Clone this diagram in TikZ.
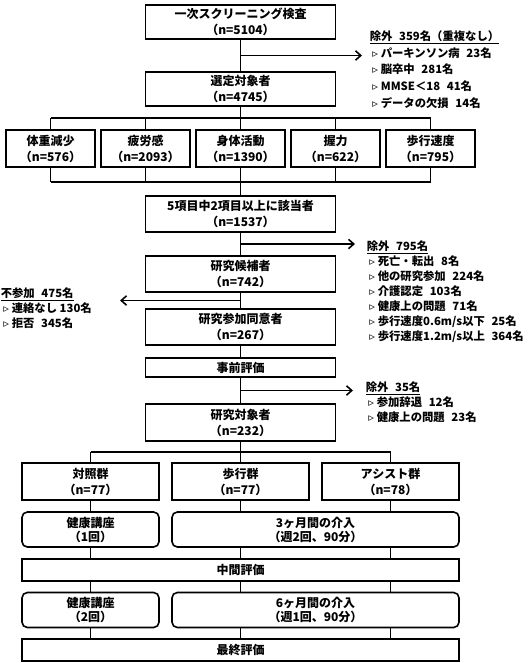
\documentclass[tikz,border=0pt]{standalone}
\usepackage{fontspec}
\setmainfont{Noto Sans CJK JP}
\newfontfamily\symfont{DejaVu Sans}
\usetikzlibrary{arrows.meta, positioning, calc}

\newcommand{\itm}{\hspace{2pt}{\symfont\fontsize{8.5}{8.5}\selectfont ▹}\hspace{2pt}}
\newcommand{\gap}{\hspace{5pt}}

\begin{document}
\begin{tikzpicture}[x=0.75pt, y=-0.75pt, line width=1.2pt,
    box/.style={draw, align=center, inner sep=0pt, font=\bfseries\fontsize{9}{12}\selectfont},
    widebox/.style={box, minimum width=142.5pt, minimum height=27pt},
    critbox/.style={box, minimum width=66.75pt, minimum height=27.75pt},
    grpbox/.style={box, minimum width=103pt, minimum height=27.75pt},
    roundbox/.style={box, rounded corners=4pt, minimum height=26.25pt, font=\bfseries\fontsize{9}{10.5}\selectfont},
    evalbox/.style={box, minimum width=327.75pt, minimum height=16.5pt},
    note/.style={anchor=north west, inner sep=0pt, align=left, font=\bfseries\fontsize{8.5}{11.25}\selectfont},
    arr/.style={-{Straight Barb[length=4pt,width=7pt]}}]
    \useasboundingbox (0,0) rectangle (529,663);

    % Nodes
    \node[widebox, minimum height=25.5pt] (screen) at (240.5,22) {一次スクリーニング検査\\（n=5104）};
    \node[widebox, minimum height=25.5pt] (select) at (240.5,89) {選定対象者\\（n=4745）};
    \node[critbox] (weight) at (50.5,148.5) {体重減少\\（n=576）};
    \node[critbox] (fatigue) at (145.5,148.5) {疲労感\\（n=2093）};
    \node[critbox] (activity) at (240.5,148.5) {身体活動\\（n=1390）};
    \node[critbox] (grip) at (335.5,148.5) {握力\\（n=622）};
    \node[critbox] (speed) at (430.5,148.5) {歩行速度\\（n=795）};
    \node[widebox] (frail) at (240.5,214) {5項目中2項目以上に該当者\\（n=1537）};
    \node[widebox] (cand) at (240.5,274) {研究候補者\\（n=742）};
    \node[widebox] (consent) at (240.5,327) {研究参加同意者\\（n=267）};
    \node[widebox, minimum height=14.25pt] (pre) at (240.5,367.5) {事前評価};
    \node[widebox, minimum height=27.75pt] (subj) at (240.5,422.5) {研究対象者\\（n=232）};
    \node[grpbox] (ctrl) at (90.5,481.5) {対照群\\（n=77）};
    \node[grpbox] (walk) at (240.5,481.5) {歩行群\\（n=77）};
    \node[grpbox] (assist) at (390.5,481.5) {アシスト群\\（n=78）};
    \node[roundbox, minimum width=102.75pt] (lect1) at (90.5,529.5) {健康講座\\（1回）};
    \node[roundbox, minimum width=215.25pt] (int1) at (315.5,529.5) {3ヶ月間の介入\\（週2回、90分）};
    \node[evalbox] (mid) at (240.5,570) {中間評価};
    \node[roundbox, minimum width=102.75pt] (lect2) at (90.5,610) {健康講座\\（2回）};
    \node[roundbox, minimum width=215.25pt] (int2) at (315.5,610) {6ヶ月間の介入\\（週1回、90分）};
    \node[evalbox] (final) at (240.5,650) {最終評価};

    % Notes
    \node[note, font=\bfseries\fontsize{8.5}{12.5}\selectfont] (ex1) at (369,30) {\underline{除外\gap 359名（重複なし）}\\
        \itm パーキンソン病\gap 23名\\ \itm 脳卒中\gap 281名\\ \itm MMSE＜18\gap 41名\\ \itm データの欠損\gap 14名};
    \node[note] (ex2) at (366,240) {\underline{除外\gap 795名}\\
        \itm 死亡・転出\gap 8名\\ \itm 他の研究参加\gap 224名\\ \itm 介護認定\gap 103名\\
        \itm 健康上の問題\gap 71名\\ \itm 歩行速度0.6m/s以下\gap 25名\\ \itm 歩行速度1.2m/s以上\gap 364名};
    \node[note] (drop) at (0,287) {\underline{不参加\gap 475名}\\ \itm 連絡なし 130名\\ \itm 拒否\gap 345名};
    \node[note] (ex3) at (365,381) {\underline{除外\gap 35名}\\ \itm 参加辞退\gap 12名\\ \itm 健康上の問題\gap 23名};

    \coordinate (tip1) at (362,0);
    \coordinate (tip2) at (355,0);
    \coordinate (tip3) at (120,0);
    \coordinate (tip4) at (353,0);
    \coordinate (bus1) at (240.5,118);
    \coordinate (bus2) at (240.5,182);
    \coordinate (bus3) at (240.5,452);

    % Flow
    \draw (screen) -- (select);
    \draw (select.south) -- (bus1);
    \draw (weight.north |- bus1) -- (speed.north |- bus1);
    \draw (weight.south |- bus2) -- (speed.south |- bus2);
    \foreach \c in {weight,fatigue,activity,grip,speed} {
        \draw (\c.north) -- (\c.north |- bus1);
        \draw (\c.south) -- (\c.south |- bus2);
    }
    \draw (bus2) -- (frail.north);
    \draw (frail) -- (cand);
    \draw (cand) -- (consent);
    \draw (consent) -- (pre);
    \draw (pre) -- (subj);
    \draw (subj.south) -- (bus3);
    \draw (ctrl.north |- bus3) -- (assist.north |- bus3);
    \foreach \c in {ctrl,walk,assist} {
        \draw (\c.north) -- (\c.north |- bus3);
        \draw (\c.south) -- (\c.south |- lect1.north);
        \draw (\c.south |- lect1.south) -- (\c.south |- mid.north);
        \draw (\c.south |- mid.south) -- (\c.south |- lect2.north);
        \draw (\c.south |- lect2.south) -- (\c.south |- final.north);
    }

    % Exclusions
    \coordinate (m1) at ($(screen.south)!.5!(select.north)$);
    \coordinate (m2) at ($(frail.south)!.5!(cand.north)$);
    \coordinate (m3) at ($(cand.south)!.5!(consent.north)$);
    \coordinate (m4) at ($(pre.south)!.5!(subj.north)$);
    \draw[arr] (m1) -- (m1 -| tip1);
    \draw[arr] (m2) -- (m2 -| tip2);
    \draw[arr] (m3) -- (m3 -| tip3);
    \draw[arr] (m4) -- (m4 -| tip4);
\end{tikzpicture}
\end{document}
